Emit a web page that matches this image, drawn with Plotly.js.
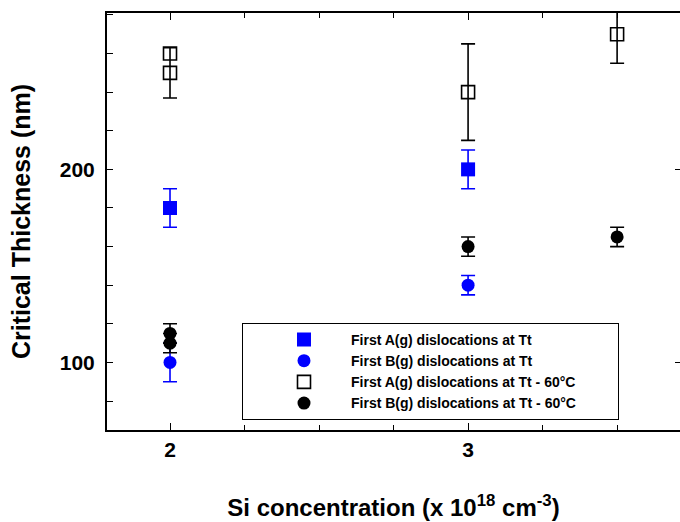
<!DOCTYPE html>
<html>
<head>
<meta charset="utf-8">
<script src="https://cdn.plot.ly/plotly-3.0.1.min.js"></script>
<style>html,body{margin:0;padding:0;background:#fff;}#chart{width:680px;height:522px;}</style>
</head>
<body>
<div id="chart"></div>
<script>
// Data
var aTtX = [2, 3];
var aTtY = [180, 200];
var aTtErr = [10, 10];

var bTtX = [2, 3];
var bTtY = [100, 140];
var bTtErr = [10, 5];

var a60X = [2, 2, 3, 3.5];
var a60Y = [260, 250, 240, 270];
var a60Err = [NaN, 13, 25, 15];

var b60X = [2, 2, 3, 3.5];
var b60Y = [115, 110, 160, 165];
var b60Err = [5, 5, 5, 5];

var seriesNames = [
  'First A(g) dislocations at Tt',
  'First B(g) dislocations at Tt',
  'First A(g) dislocations at Tt - 60°C',
  'First B(g) dislocations at Tt - 60°C'
];

var xTickVals = [2, 3];
var xTickText = ['2', '3'];
var yTickVals = [100, 200];
var yTickText = ['100', '200'];

var FONT = 'Liberation Sans, Arial, sans-serif';
var BLUE = '#0000ff';

function errBar(arr, color) {
  return {type: 'data', array: arr, visible: true, color: color, thickness: 1.6, width: 7};
}

var traces = [
  {x: aTtX, y: aTtY, name: seriesNames[0], mode: 'markers', type: 'scatter',
   marker: {symbol: 'square', size: 14, color: BLUE},
   error_y: errBar(aTtErr, BLUE)},
  {x: bTtX, y: bTtY, name: seriesNames[1], mode: 'markers', type: 'scatter',
   marker: {symbol: 'circle', size: 13, color: BLUE},
   error_y: errBar(bTtErr, BLUE)},
  {x: a60X, y: a60Y, name: seriesNames[2], mode: 'markers', type: 'scatter',
   marker: {symbol: 'square-open', size: 13, color: '#000', line: {width: 1.6, color: '#000'}},
   error_y: errBar(a60Err, '#000')},
  {x: b60X, y: b60Y, name: seriesNames[3], mode: 'markers', type: 'scatter',
   marker: {symbol: 'circle', size: 13, color: '#000'},
   error_y: errBar(b60Err, '#000')},
  {x: [], y: [], yaxis: 'y2', showlegend: false, hoverinfo: 'skip', type: 'scatter', mode: 'markers'}
];

var layout = {
  width: 680, height: 522,
  margin: {l: 107, r: 0, t: 13, b: 92},
  paper_bgcolor: '#fff', plot_bgcolor: '#fff',
  showlegend: true,
  font: {family: FONT, color: '#000'},
  xaxis: {
    range: [1.7886, 3.711],
    tickmode: 'array', tickvals: xTickVals, ticktext: xTickText,
    ticks: 'inside', ticklen: 7, tickwidth: 1, tickcolor: '#000',
    minor: {tickmode: 'linear', tick0: 2, dtick: 0.25, ticks: 'inside', ticklen: 5, tickwidth: 1, tickcolor: '#000'},
    showline: true, linewidth: 2, linecolor: '#000', mirror: 'ticks',
    showgrid: false, zeroline: false,
    tickfont: {family: FONT, size: 21, weight: 'bold', color: '#000'},
    title: {text: 'Si concentration (x 10<sup>18</sup> cm<sup>-3</sup>)',
            font: {family: FONT, size: 24, weight: 'bold', color: '#000'}, standoff: 39}
  },
  yaxis: {
    range: [65, 281],
    tickmode: 'array', tickvals: yTickVals, ticktext: yTickText,
    ticks: 'inside', ticklen: 6, tickwidth: 1, tickcolor: '#000',
    minor: {tickmode: 'linear', tick0: 0, dtick: 20, ticks: 'inside', ticklen: 6, tickwidth: 1, tickcolor: '#000'},
    showline: true, linewidth: 2, linecolor: '#000', mirror: false,
    showgrid: false, zeroline: false,
    ticklabelstandoff: 6,
    tickfont: {family: FONT, size: 21, weight: 'bold', color: '#000'},
    title: {text: 'Critical Thickness (nm)',
            font: {family: FONT, size: 25, weight: 'bold', color: '#000'}, standoff: 22}
  },
  yaxis2: {
    overlaying: 'y', side: 'right', matches: 'y',
    range: [65, 281],
    tickmode: 'array', tickvals: yTickVals,
    ticks: 'inside', ticklen: 5, tickwidth: 1, tickcolor: '#000',
    showticklabels: false, showline: false, showgrid: false, zeroline: false
  },
  legend: {
    orientation: 'h',
    x: 0.2356, y: 0.257, xanchor: 'left', yanchor: 'top',
    bgcolor: '#fff', bordercolor: '#000', borderwidth: 1,
    font: {family: FONT, size: 14, weight: 'bold', color: '#000'},
    indentation: 14, itemwidth: 84, tracegroupgap: 0,
    entrywidth: 262, entrywidthmode: 'pixels'
  }
};

Plotly.newPlot('chart', traces, layout, {displayModeBar: false, staticPlot: true});
</script>
</body>
</html>
